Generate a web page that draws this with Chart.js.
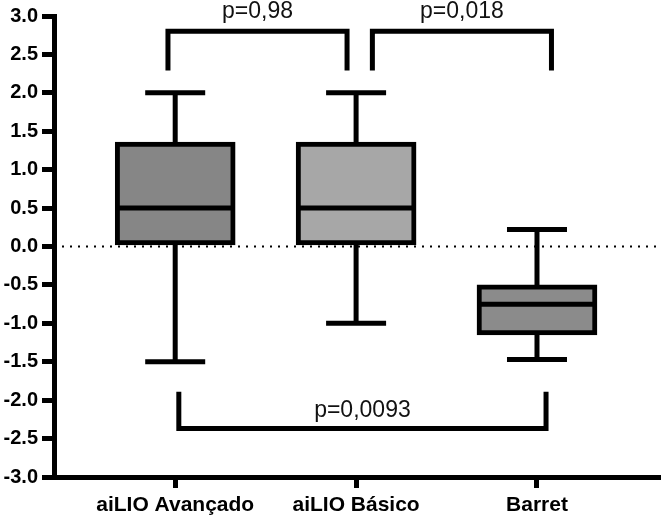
<!doctype html>
<html lang="pt">
<head>
  <meta charset="utf-8" />
  <title>Boxplot aiLIO</title>
  <script src="https://cdn.jsdelivr.net/npm/chart.js@4.4.1/dist/chart.umd.min.js"></script>
  <style>
    *{box-sizing:border-box;margin:0;padding:0}
    html,body{width:661px;height:518px;background:#fff;overflow:hidden}
    #wrap{width:661px;height:518px;position:relative}
  </style>
</head>
<body>
  <div id="wrap"><canvas id="box" width="661" height="518"></canvas></div>

  <script>
    /* ===== data ===== */
    const categories = ['aiLIO Avançado', 'aiLIO Básico', 'Barret'];
    const mins    = [-1.50, -1.00, -1.47];
    const q1s     = [ 0.02,  0.02, -1.15];
    const medians = [ 0.50,  0.50, -0.75];
    const q3s     = [ 1.36,  1.36, -0.50];
    const maxs    = [ 2.00,  2.00,  0.22];
    const yTickValues = [-3, -2.5, -2, -1.5, -1, -0.5, 0, 0.5, 1, 1.5, 2, 2.5, 3];

    // brackets for p-values (x in category units, y in data units)
    const bracketLabels = ['p=0,98', 'p=0,018', 'p=0,0093'];
    const bracketFrom   = [-0.04, 1.09, 0.02];
    const bracketTo     = [ 0.95, 2.08, 2.05];
    const bracketLine   = [ 2.80, 2.80, -2.37];
    const bracketTip    = [ 2.29, 2.29, -1.89];

    const boxColors = ['#868686', '#a7a7a7', '#8b8b8b'];
    const LW = 5;

    /* ===== whiskers, medians, zero line, brackets ===== */
    const boxExtras = {
      id: 'boxExtras',
      beforeDatasetsDraw(chart){
        const {ctx, scales:{x, y}} = chart;
        ctx.save();
        ctx.strokeStyle = '#000';
        ctx.lineWidth = LW;
        ctx.lineCap = 'butt';
        categories.forEach((c, i) => {
          const cx = x.getPixelForValue(i);
          const half = 30;
          ctx.beginPath();
          ctx.moveTo(cx, y.getPixelForValue(q3s[i]));
          ctx.lineTo(cx, y.getPixelForValue(maxs[i]));
          ctx.moveTo(cx, y.getPixelForValue(q1s[i]));
          ctx.lineTo(cx, y.getPixelForValue(mins[i]));
          ctx.moveTo(cx - half, y.getPixelForValue(maxs[i]));
          ctx.lineTo(cx + half, y.getPixelForValue(maxs[i]));
          ctx.moveTo(cx - half, y.getPixelForValue(mins[i]));
          ctx.lineTo(cx + half, y.getPixelForValue(mins[i]));
          ctx.stroke();
        });
        ctx.restore();
      },
      afterDatasetsDraw(chart){
        const {ctx, chartArea, scales:{x, y}} = chart;
        ctx.save();
        ctx.strokeStyle = '#000';
        ctx.lineWidth = LW;
        categories.forEach((c, i) => {
          const cx = x.getPixelForValue(i);
          const my = y.getPixelForValue(medians[i]);
          ctx.beginPath();
          ctx.moveTo(cx - 58, my);
          ctx.lineTo(cx + 58, my);
          ctx.stroke();
        });
        // dotted zero line
        const zy = y.getPixelForValue(0);
        ctx.lineWidth = 2;
        ctx.setLineDash([2, 6]);
        ctx.beginPath();
        ctx.moveTo(chartArea.left + 8, zy);
        ctx.lineTo(chartArea.right, zy);
        ctx.stroke();
        ctx.restore();
      },
      afterDraw(chart){
        const {ctx, scales:{x, y}} = chart;
        ctx.save();
        ctx.strokeStyle = '#000';
        ctx.fillStyle = '#111';
        ctx.lineWidth = LW;
        ctx.lineJoin = 'miter';
        ctx.font = '23px "Liberation Sans", Arial, sans-serif';
        ctx.textAlign = 'center';
        ctx.textBaseline = 'alphabetic';
        bracketLabels.forEach((lab, i) => {
          const x1 = x.getPixelForValue(bracketFrom[i]);
          const x2 = x.getPixelForValue(bracketTo[i]);
          const ly = y.getPixelForValue(bracketLine[i]);
          const ty = y.getPixelForValue(bracketTip[i]);
          ctx.beginPath();
          ctx.moveTo(x1, ty);
          ctx.lineTo(x1, ly);
          ctx.lineTo(x2, ly);
          ctx.lineTo(x2, ty);
          ctx.stroke();
          const off = bracketLine[i] > 0 ? 13 : 12;
          ctx.fillText(lab, (x1 + x2) / 2, ly - off);
        });
        ctx.restore();
      }
    };

    const ctx = document.getElementById('box').getContext('2d');
    new Chart(ctx, {
      type: 'bar',
      data: {
        datasets: [{
          data: categories.map((c, i) => ({x: i, y: [q1s[i], q3s[i]]})),
          backgroundColor: boxColors,
          borderColor: '#000',
          borderWidth: LW,
          borderSkipped: false,
          barThickness: 120
        }]
      },
      options: {
        responsive: false,
        animation: false,
        layout: {padding: {top: 16, right: 1, left: 0, bottom: 0}},
        plugins: {legend: {display: false}, tooltip: {enabled: false}},
        scales: {
          x: {
            type: 'linear',
            offset: false,
            min: -0.67, max: 2.68,
            afterBuildTicks: s => { s.ticks = categories.map((c, i) => ({value: i})); },
            afterFit: s => { s.height = 41; },
            ticks: {
              autoSkip: false, maxRotation: 0, padding: 5,
              color: '#000',
              font: {family: '"Liberation Sans", Arial, sans-serif', size: 21, weight: 'bold'},
              callback: v => categories[v]
            },
            grid: {offset: false, drawOnChartArea: false, tickLength: 11, tickWidth: LW, tickColor: '#000'},
            border: {display: true, width: LW, color: '#000'}
          },
          y: {
            min: -3, max: 3,
            afterBuildTicks: s => { s.ticks = yTickValues.map(v => ({value: v})); },
            afterFit: s => { s.width = 54; },
            ticks: {
              padding: 4, color: '#000',
              font: {family: '"Liberation Sans", Arial, sans-serif', size: 20, weight: 'bold'},
              callback: v => v.toFixed(1)
            },
            grid: {drawOnChartArea: false, tickLength: 12, tickWidth: LW, tickColor: '#000'},
            border: {display: true, width: LW, color: '#000'}
          }
        }
      },
      plugins: [boxExtras]
    });
  </script>
</body>
</html>
